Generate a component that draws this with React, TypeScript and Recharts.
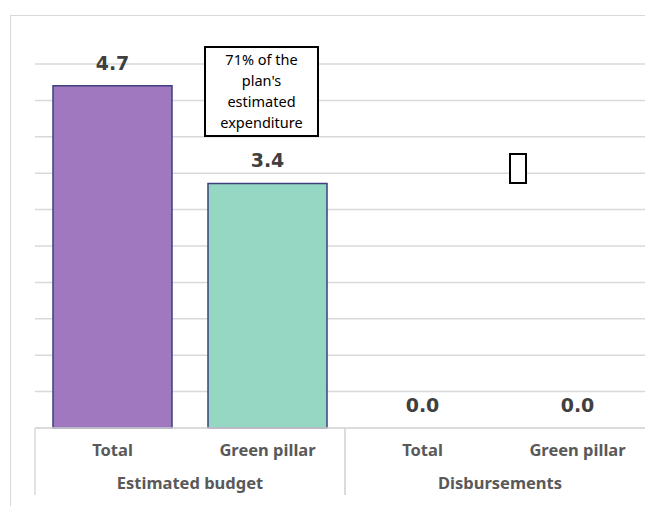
import React from 'react';
import { ComposedChart, Bar, Line, XAxis, YAxis, CartesianGrid, Cell, LabelList } from 'recharts';

// values in billions
const categories = ['Total', 'Green pillar', 'Total', 'Green pillar'];
const groups = ['Estimated budget', 'Estimated budget', 'Disbursements', 'Disbursements'];
const values = [4.7, 3.36, 0, 0];
const barColors = ['#A078BF', '#94D7C2', '#A078BF', '#94D7C2'];
const yTicks = [0, 0.5, 1, 1.5, 2, 2.5, 3, 3.5, 4, 4.5, 5];

const data = categories.map((name, i) => ({ name, group: groups[i], value: values[i] }));

const GRID = '#D9D9D9';
const LABEL_FONT = '"Noto Sans", sans-serif';

function CategoryTick({ x, y, payload }: any) {
  return (
    <text x={x} y={y + 28} textAnchor="middle" fill="#595959" fontSize={16.5} fontWeight={700} fontFamily={LABEL_FONT}>
      {payload.value}
    </text>
  );
}

function GroupTick({ x, y, payload }: any) {
  const half = payload.offset || 155;
  return (
    <g>
      <line x1={x - half} x2={x - half} y1={y - 33} y2={y + 34} stroke={GRID} strokeWidth={1.5} />
      <line x1={x + half} x2={x + half} y1={y - 33} y2={y + 34} stroke={GRID} strokeWidth={1.5} />
      <text x={x} y={y + 28} textAnchor="middle" fill="#595959" fontSize={16.5} fontWeight={700} fontFamily={LABEL_FONT}>
        {payload.value}
      </text>
    </g>
  );
}

export default function App() {
  return (
    <div style={{ position: 'absolute', left: 0, top: 0, width: 645, height: 506, overflow: 'hidden', background: '#fff' }}>
      <div style={{ position: 'absolute', left: 10, top: 15, width: 700, height: 600, border: `1.5px solid ${GRID}` }} />
      <div style={{ position: 'absolute', left: 0, top: 0 }}>
        <ComposedChart width={700} height={506} data={data} margin={{ top: 64, right: 45, left: 35, bottom: 12 }}>
          <CartesianGrid vertical={false} stroke={GRID} strokeWidth={1.5} />
          <YAxis hide domain={[0, 5]} ticks={yTicks} />
          <XAxis
            dataKey="name"
            height={33}
            tickLine={false}
            tickSize={0}
            tickMargin={0}
            axisLine={{ stroke: GRID, strokeWidth: 1.5 }}
            tick={<CategoryTick />}
            interval={0}
          />
          <XAxis
            xAxisId="group"
            dataKey="group"
            allowDuplicatedCategory={false}
            height={33}
            tickLine={false}
            tickSize={0}
            tickMargin={0}
            axisLine={false}
            tick={<GroupTick />}
            interval={0}
          />
          <Bar dataKey="value" barSize={119} stroke="#3F3F7F" strokeWidth={1.5} isAnimationActive={false}>
            {data.map((d, i) => (
              <Cell key={`cell-${i}`} fill={barColors[i]} />
            ))}
          </Bar>
          {/* invisible line only carries the value labels, so the zero bars get theirs too */}
          <Line dataKey="value" stroke="none" dot={false} activeDot={false} isAnimationActive={false}>
            <LabelList
              dataKey="value"
              position="top"
              offset={16}
              formatter={(v: any) => Number(v).toFixed(1)}
              fill="#404040"
              fontSize={19}
              fontWeight={700}
              fontFamily='"DejaVu Sans", sans-serif'
            />
          </Line>
        </ComposedChart>
      </div>
      <div
        style={{
          position: 'absolute',
          left: 204,
          top: 46,
          width: 115,
          height: 91,
          boxSizing: 'border-box',
          border: '2px solid #000',
          background: '#fff',
          textAlign: 'center',
          fontFamily: LABEL_FONT,
          fontSize: 14.5,
          lineHeight: '21px',
          color: '#000',
          paddingTop: 1,
        }}
      >
        71% of the<br />plan's<br />estimated<br />expenditure
      </div>
      <div
        style={{
          position: 'absolute',
          left: 509,
          top: 153,
          width: 18,
          height: 31,
          boxSizing: 'border-box',
          border: '2.5px solid #000',
          background: '#fff',
        }}
      />
    </div>
  );
}
